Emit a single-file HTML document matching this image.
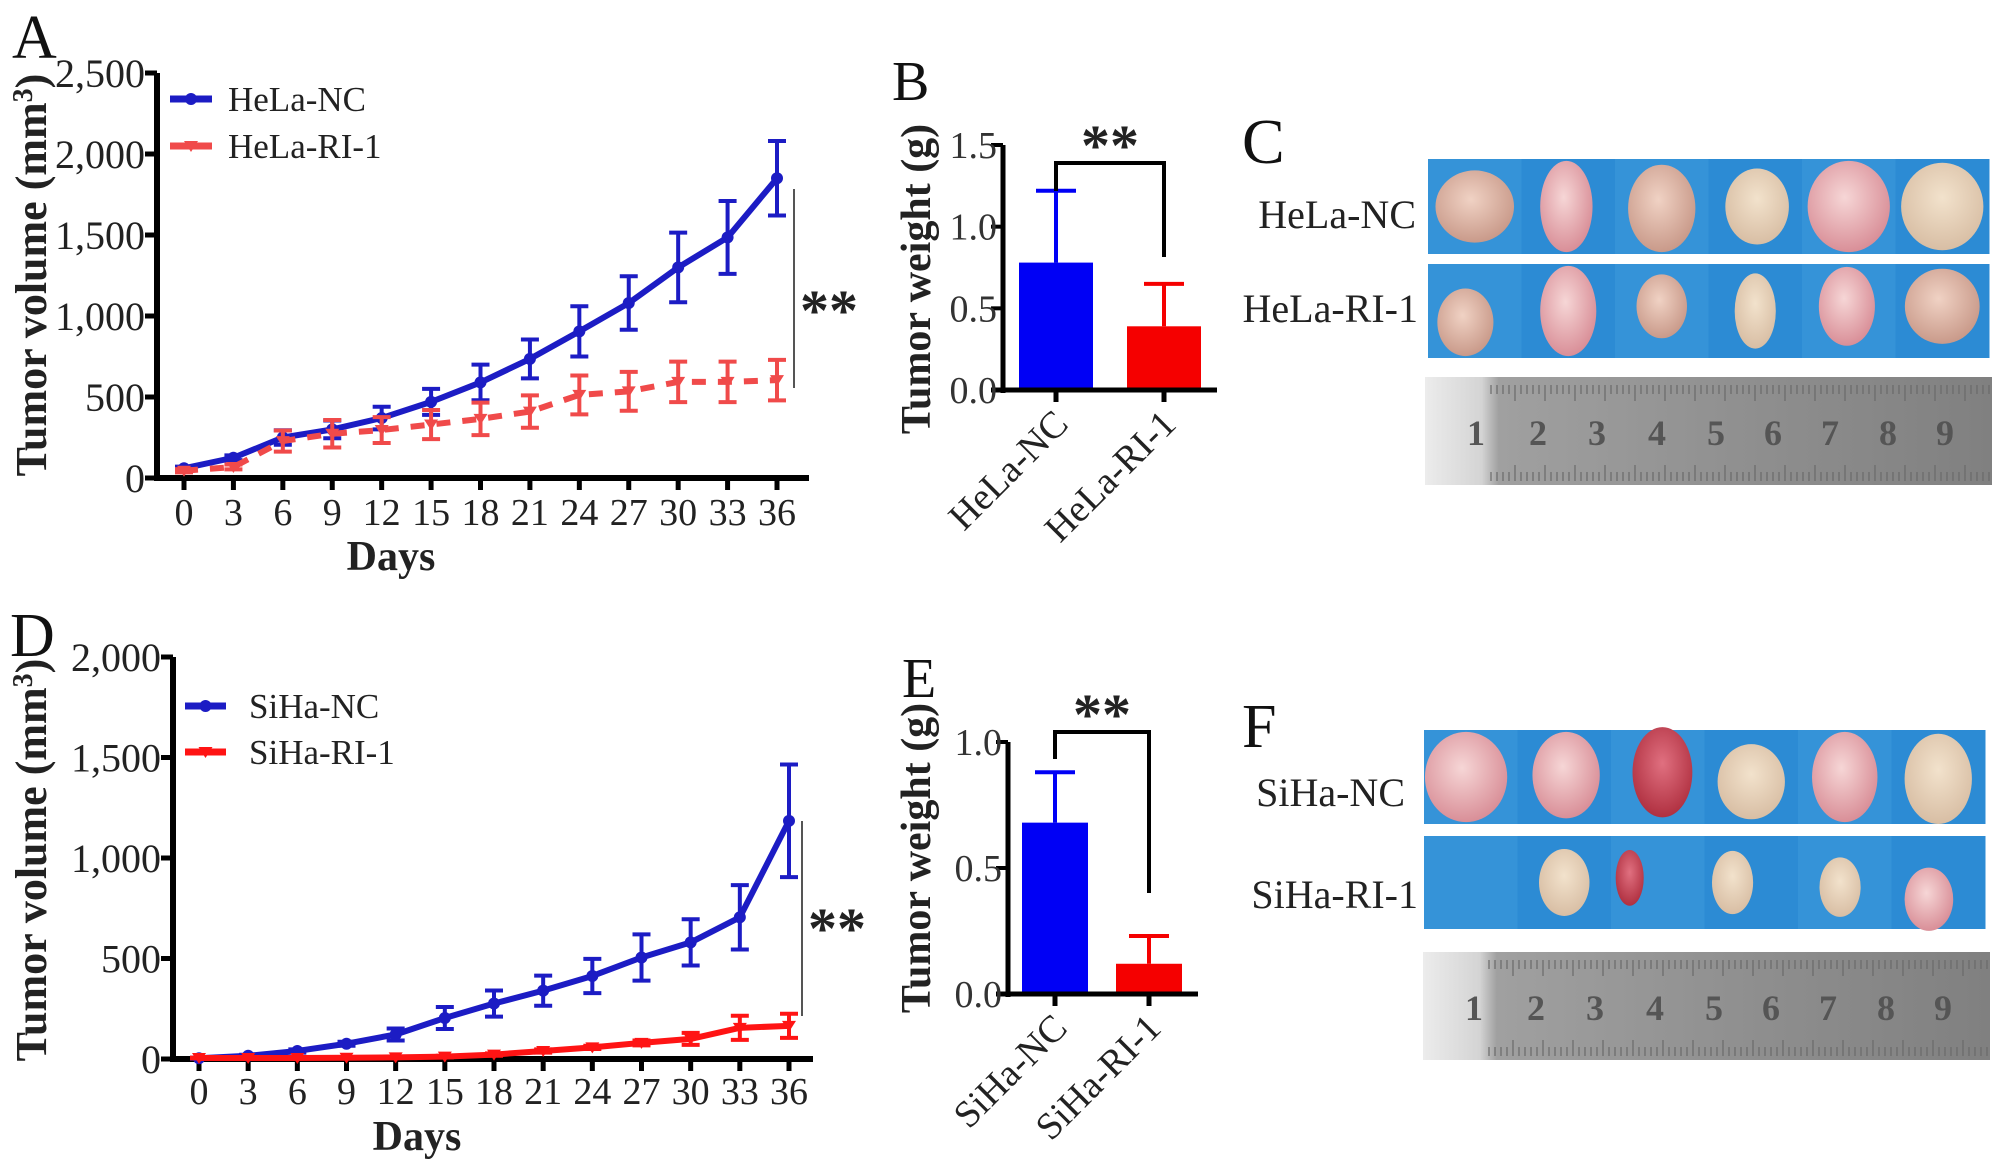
<!DOCTYPE html>
<html><head><meta charset="utf-8"><style>
html,body{margin:0;padding:0;background:#fff;}
svg{display:block;font-family:"Liberation Serif",serif;}
svg text{font-family:"Liberation Serif",serif;}
</style></head><body>
<svg id="fig" width="2008" height="1172" viewBox="0 0 2008 1172" xmlns="http://www.w3.org/2000/svg">
<defs>
<linearGradient id="rulerGrad" x1="0" y1="0" x2="1" y2="0">
<stop offset="0" stop-color="#ececec"/><stop offset="0.1" stop-color="#d4d4d4"/><stop offset="0.13" stop-color="#a0a0a0"/><stop offset="0.6" stop-color="#8e8e8e"/><stop offset="1" stop-color="#808080"/>
</linearGradient>
<radialGradient id="tumorA" cx="0.45" cy="0.4" r="0.6"><stop offset="0" stop-color="#f0d2c4"/><stop offset="1" stop-color="#c99a8a"/></radialGradient>
<radialGradient id="tumorB" cx="0.45" cy="0.4" r="0.6"><stop offset="0" stop-color="#f6d6d6"/><stop offset="1" stop-color="#d98f98"/></radialGradient>
<radialGradient id="tumorC" cx="0.5" cy="0.4" r="0.6"><stop offset="0" stop-color="#f2e2cc"/><stop offset="1" stop-color="#d8bea4"/></radialGradient>
<radialGradient id="tumorD" cx="0.5" cy="0.4" r="0.6"><stop offset="0" stop-color="#e07080"/><stop offset="1" stop-color="#b03040"/></radialGradient>
</defs>
<g id="root"></g>
</svg>
<script>
// ---- Panel A data ----
const daysA = [0,3,6,9,12,15,18,21,24,27,30,33,36];
const helaNC = [60,125,250,300,370,470,590,735,905,1080,1300,1485,1850];
const helaNCerr = [10,15,45,55,70,80,110,120,155,165,215,225,230];
const helaRI = [45,68,228,273,296,330,365,410,513,535,593,593,604];
const helaRIerr = [10,15,65,85,80,90,100,100,120,120,125,125,125];
const ticksA = [0,500,1000,1500,2000,2500];
const tickLabelsA = ["0","500","1,000","1,500","2,000","2,500"];
// ---- Panel D data ----
const daysD = [0,3,6,9,12,15,18,21,24,27,30,33,36];
const sihaNC = [4,16,40,76,122,204,276,340,413,505,580,705,1185];
const sihaNCerr = [3,5,8,10,30,55,65,75,85,115,115,160,280];
const sihaRI = [5,5,5,6,8,12,22,40,58,80,100,155,165];
const sihaRIerr = [2,2,2,2,3,4,6,8,8,12,30,60,60];
const ticksD = [0,500,1000,1500,2000];
const tickLabelsD = ["0","500","1,000","1,500","2,000"];
// ---- Panel B / E data ----
const catsB = ["HeLa-NC","HeLa-RI-1"];
const weightB = [0.78,0.39];
const weightBerr = [0.44,0.26];
const ticksB = [0,0.5,1.0,1.5];
const tickLabelsB = ["0.0","0.5","1.0","1.5"];
const catsE = ["SiHa-NC","SiHa-RI-1"];
const weightE = [0.68,0.12];
const weightEerr = [0.20,0.11];
const ticksE = [0,0.5,1.0];
const tickLabelsE = ["0.0","0.5","1.0"];

const NS="http://www.w3.org/2000/svg";
const root=document.getElementById('root');
function mk(tag,attrs,parent,text){const e=document.createElementNS(NS,tag);for(const k in attrs)e.setAttribute(k,attrs[k]);if(text!==undefined)e.textContent=text;(parent||root).appendChild(e);return e;}

function lineChart(o){
  const g=mk('g',{});
  
  
  const xs=d=>o.x0+(d-0)/36*(o.x36-o.x0);
  const ys=v=>o.y0-v/o.yMax*(o.y0-o.yTop);
  const ya=mk('line',{x1:o.ax,y1:o.yTop,x2:o.ax,y2:o.y0+3,stroke:'#000','stroke-width':6},g);
  
  const xa=mk('line',{x1:o.ax-3,y1:o.y0,x2:o.xEnd,y2:o.y0,stroke:'#000','stroke-width':6},g);
  
  o.ticks.forEach((t,i)=>{
    mk('line',{x1:o.ax-12,y1:ys(t),x2:o.ax,y2:ys(t),stroke:'#000','stroke-width':5},g);
    const tl=mk('text',{x:o.ax-12,y:ys(t)+14,'text-anchor':'end','font-size':40,fill:'#222'},g,o.tickLabels[i]);
    
  });
  o.days.forEach(d=>{
    mk('line',{x1:xs(d),y1:o.y0,x2:xs(d),y2:o.y0+12,stroke:'#000','stroke-width':5},g);
    const tl=mk('text',{x:xs(d),y:o.tickY,'text-anchor':'middle','font-size':38,fill:'#222'},g,String(d));
    
  });
  o.series.forEach(s=>{
    const sg=mk('g',{},g);
    
    const pts=o.days.map((d,i)=>xs(d)+','+ys(s.vals[i])).join(' ');
    const pl=mk('polyline',{points:pts,fill:'none',stroke:s.color,'stroke-width':6,'stroke-dasharray':s.dash||'none','stroke-linejoin':'round'},sg);
    
    o.days.forEach((d,i)=>{
      const x=xs(d),y=ys(s.vals[i]),e=s.err[i];
      const eb=mk('path',{d:`M${x},${ys(s.vals[i]+e)}V${ys(Math.max(0,s.vals[i]-e))}M${x-9},${ys(s.vals[i]+e)}h18M${x-9},${ys(Math.max(0,s.vals[i]-e))}h18`,stroke:s.color,'stroke-width':4,fill:'none'},sg);
      
      let m;
      if(s.marker==='circle') m=mk('circle',{cx:x,cy:y,r:6,fill:s.color},sg);
      else m=mk('path',{d:`M${x-7},${y-5}h14l-7,11z`,fill:s.color},sg);
      
    });
  });
  o.series.forEach((s,i)=>{
    const lg=mk('g',{},g);
    
    const ly=o.legY[i];
    mk('line',{x1:o.legX1,y1:ly,x2:o.legX2,y2:ly,stroke:s.color,'stroke-width':7},lg);
    if(s.marker==='circle') mk('circle',{cx:(o.legX1+o.legX2)/2,cy:ly,r:6,fill:s.color},lg);
    else mk('path',{d:`M${(o.legX1+o.legX2)/2-7},${ly-5}h14l-7,11z`,fill:s.color},lg);
    mk('text',{x:o.legTx,y:ly+12,'font-size':35,fill:'#222'},lg,s.label);
  });
  const sl=mk('line',{x1:o.sigX,y1:o.sigY1,x2:o.sigX,y2:o.sigY2,stroke:'#555','stroke-width':2},g);
  
  const st=mk('text',{x:o.sigX+6,y:o.sigTy,'font-size':58,'font-weight':'bold',fill:'#222'},g,'**');
  
  const xt=mk('text',{x:o.daysX,y:o.daysY,'text-anchor':'middle','font-size':42,'font-weight':'bold',fill:'#222'},g,'Days');
  
  const yt=mk('text',{x:0,y:0,'text-anchor':'middle','font-size':44,'font-weight':'bold',fill:'#222',transform:`translate(${o.ytX},${o.ytY}) rotate(-90)`},g);
  
  yt.appendChild(document.createTextNode('Tumor volume (mm'));
  mk('tspan',{'font-size':28,dy:-14},yt,'3');
  mk('tspan',{dy:14},yt,')');
}

function barChart(o){
  const g=mk('g',{});
  
  const ys=v=>o.y0-v/o.yMax*(o.y0-o.yTop);
  o.vals.forEach((v,i)=>{
    const bx=o.barX[i];
    const r=mk('rect',{x:bx,y:ys(v),width:o.barW,height:o.y0-ys(v),fill:o.colors[i]},g);
    
    const cx=bx+o.barW/2;
    const eb=mk('path',{d:`M${cx},${ys(v)}V${ys(v+o.err[i])}M${cx-20},${ys(v+o.err[i])}h40`,stroke:o.colors[i],'stroke-width':4,fill:'none'},g);
    
    mk('line',{x1:cx,y1:o.y0,x2:cx,y2:o.y0+12,stroke:'#000','stroke-width':5},g);
    const cl=mk('text',{x:0,y:0,'text-anchor':'end','font-size':38,fill:'#222',transform:`translate(${cx+14},${o.y0+36}) rotate(-45)`},g,o.cats[i]);
    
  });
  const ya=mk('line',{x1:o.ax,y1:o.yTop,x2:o.ax,y2:o.y0+3,stroke:'#000','stroke-width':5},g);
  
  const xa=mk('line',{x1:o.ax-12,y1:o.y0,x2:o.xEnd,y2:o.y0,stroke:'#000','stroke-width':5},g);
  
  o.ticks.forEach((t,i)=>{
    mk('line',{x1:o.ax-12,y1:ys(t),x2:o.ax,y2:ys(t),stroke:'#000','stroke-width':4},g);
    const tl=mk('text',{x:o.ax-6,y:ys(t)+13,'text-anchor':'end','font-size':38,fill:'#333'},g,o.tickLabels[i]);
    
  });
  const c0=o.barX[0]+o.barW/2,c1=o.barX[1]+o.barW/2;
  const br=mk('path',{d:`M${c0},${o.brL}V${o.brTop}H${c1}V${o.brR}`,stroke:'#000','stroke-width':4,fill:'none'},g);
  
  const st=mk('text',{x:(c0+c1)/2,y:o.brTop+2,'text-anchor':'middle','font-size':58,'font-weight':'bold',fill:'#222'},g,'**');
  
  const yt=mk('text',{x:0,y:0,'text-anchor':'middle','font-size':42,'font-weight':'bold',fill:'#222',transform:`translate(${o.ytX},${o.ytY}) rotate(-90)`},g,'Tumor weight (g)');
  
}

function panelLetter(t,x,y,size){
  const l=mk('text',{x:x,y:y,'font-size':size,fill:'#111'},root,t);
  
  
}

lineChart({name:'chart-hela-volume',days:daysA,x0:184,x36:777,ax:157,xEnd:809,y0:478,yTop:73,yMax:2500,
  ticks:ticksA,tickLabels:tickLabelsA,tickY:525,
  series:[{name:'series-hela-nc',label:'HeLa-NC',vals:helaNC,err:helaNCerr,color:'#1c1cc4',marker:'circle'},
          {name:'series-hela-ri-1',label:'HeLa-RI-1',vals:helaRI,err:helaRIerr,color:'#f04a4a',marker:'tri',dash:'14 12'}],
  legX1:170,legX2:212,legY:[99,146],legTx:228,
  sigX:794,sigY1:189,sigY2:388,sigTy:330,daysX:391,daysY:570,ytX:46,ytY:275});

lineChart({name:'chart-siha-volume',days:daysD,x0:199,x36:789,ax:173,xEnd:813,y0:1059,yTop:657,yMax:2000,
  ticks:ticksD,tickLabels:tickLabelsD,tickY:1104,
  series:[{name:'series-siha-nc',label:'SiHa-NC',vals:sihaNC,err:sihaNCerr,color:'#1c1cc4',marker:'circle'},
          {name:'series-siha-ri-1',label:'SiHa-RI-1',vals:sihaRI,err:sihaRIerr,color:'#ff1414',marker:'tri'}],
  legX1:185,legX2:226,legY:[706,752],legTx:249,
  sigX:802,sigY1:821,sigY2:1016,sigTy:948,daysX:417,daysY:1150,ytX:46,ytY:860});

barChart({name:'chart-hela-weight',cats:catsB,vals:weightB,err:weightBerr,ticks:ticksB,tickLabels:tickLabelsB,
  ax:1003,xEnd:1217,y0:390,yTop:145,yMax:1.5,barX:[1019,1127],barW:74,colors:['#0000f5','#f50000'],
  brTop:163,brL:191,brR:257,ytX:930,ytY:279});
barChart({name:'chart-siha-weight',cats:catsE,vals:weightE,err:weightEerr,ticks:ticksE,tickLabels:tickLabelsE,
  ax:1008,xEnd:1198,y0:994,yTop:742,yMax:1.0,barX:[1022,1116],barW:66,colors:['#0000f5','#f50000'],
  brTop:732,brL:759,brR:893,ytX:930,ytY:858});

panelLetter('A',12,58,62);panelLetter('B',892,100,56);panelLetter('C',1242,163,64);
panelLetter('D',10,656,62);panelLetter('E',902,697,56);panelLetter('F',1242,747,62);

// photo panels (illustrative, not data)
const tilesC=[[0.5,0.5,0.42,0.38,'tumorA'],[0.48,0.5,0.28,0.48,'tumorB'],[0.5,0.52,0.36,0.46,'tumorA'],[0.52,0.5,0.34,0.4,'tumorC'],[0.5,0.5,0.44,0.48,'tumorB'],[0.5,0.5,0.44,0.46,'tumorC']];
const tilesC2=[[0.4,0.62,0.3,0.36,'tumorA'],[0.5,0.5,0.3,0.48,'tumorB'],[0.5,0.45,0.27,0.34,'tumorA'],[0.5,0.5,0.22,0.4,'tumorC'],[0.48,0.45,0.3,0.42,'tumorB'],[0.5,0.45,0.4,0.4,'tumorA']];
const tilesF=[[0.45,0.5,0.44,0.48,'tumorB'],[0.52,0.48,0.36,0.46,'tumorB'],[0.55,0.45,0.32,0.48,'tumorD'],[0.5,0.55,0.36,0.4,'tumorC'],[0.5,0.5,0.35,0.48,'tumorB'],[0.5,0.52,0.36,0.48,'tumorC']];
const tilesF2=[[0.5,0.5,0,0,'tumorA'],[0.5,0.5,0.27,0.36,'tumorC'],[0.2,0.45,0.15,0.3,'tumorD'],[0.3,0.5,0.22,0.34,'tumorC'],[0.45,0.55,0.22,0.32,'tumorC'],[0.4,0.68,0.26,0.34,'tumorB']];
function photoRow(x1,x2,y1,y2,tiles,name){
  const g=mk('g',{});
  const w=(x2-x1)/6,h=y2-y1;
  tiles.forEach((t,i)=>{
    mk('rect',{x:x1+i*w,y:y1,width:w+0.5,height:h,fill:i%2?'#2c8bd4':'#3593d8'},g);
    if(t[2]>0) mk('ellipse',{cx:x1+i*w+t[0]*w,cy:y1+t[1]*h,rx:t[2]*w,ry:t[3]*h,fill:'url(#'+t[4]+')'},g);
  });
}
function ruler(x1,x2,y1,y2,ny,name){
  const g=mk('g',{});
  mk('rect',{x:x1,y:y1,width:x2-x1,height:y2-y1,fill:'url(#rulerGrad)'},g);
  let d='';for(let x=x1+66;x<x2;x+=6){const big=Math.round((x-x1)/6)%5===0;d+=`M${x},${y1+8}v${big?16:9}M${x},${y2-4}v-${big?16:9}`;}
  mk('path',{d:d,stroke:'#6a6a6a','stroke-width':1.2},g);
  const nx=[1476,1538,1597,1657,1716,1773,1830,1888,1945];
  nx.forEach((x,i)=>{mk('text',{x:x+(x1-1425),y:ny,'text-anchor':'middle','font-size':36,'font-weight':'bold',fill:'#555'},g,String(i+1));});
}
photoRow(1428,1989,159,254,tilesC,'photo-hela-nc');
photoRow(1428,1989,264,358,tilesC2,'photo-hela-ri-1');
ruler(1425,1992,377,485,445,'ruler-c');
photoRow(1424,1985,730,824,tilesF,'photo-siha-nc');
photoRow(1424,1985,836,929,tilesF2,'photo-siha-ri-1');
ruler(1423,1990,952,1060,1020,'ruler-f');
[['HeLa-NC',1416,228],['HeLa-RI-1',1418,322],['SiHa-NC',1405,806],['SiHa-RI-1',1418,908]].forEach(r=>{
  const t=mk('text',{x:r[1],y:r[2],'text-anchor':'end','font-size':40,fill:'#222'},root,r[0]);
  
  
});
</script>
</body></html>
